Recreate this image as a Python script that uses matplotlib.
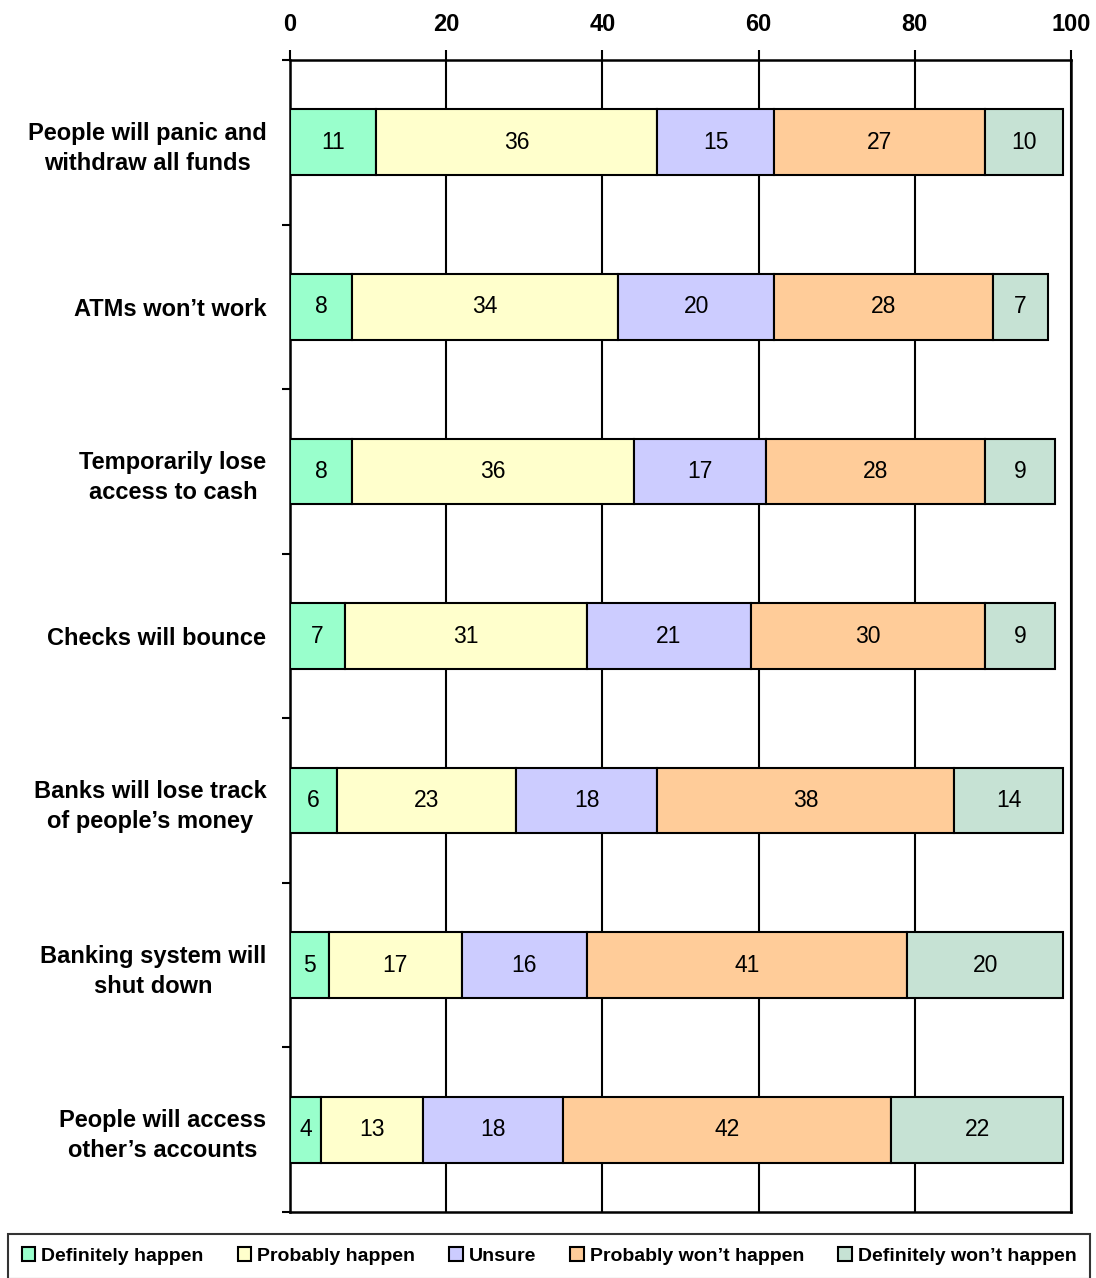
import matplotlib
matplotlib.use("Agg")
import matplotlib.pyplot as plt
import numpy as np

categories = ["People will panic and\nwithdraw all funds",
              "ATMs won\u2019t work",
              "Temporarily lose\naccess to cash",
              "Checks will bounce",
              "Banks will lose track\nof people\u2019s money",
              "Banking system will\nshut down",
              "People will access\nother\u2019s accounts"]
series_names = ["Definitely happen", "Probably happen", "Unsure",
                "Probably won\u2019t happen", "Definitely won\u2019t happen"]
definitely_happen = [11, 8, 8, 7, 6, 5, 4]
probably_happen = [36, 34, 36, 31, 23, 17, 13]
unsure = [15, 20, 17, 21, 18, 16, 18]
probably_wont = [27, 28, 28, 30, 38, 41, 42]
definitely_wont = [10, 7, 9, 9, 14, 20, 22]
x_ticks = [0, 20, 40, 60, 80, 100]
colors = ["#99FFCC", "#FFFFCC", "#CCCCFF", "#FFCC99", "#C6E2D4"]

plt.rcParams['font.family'] = ['Liberation Sans', 'DejaVu Sans']

fig = plt.figure(figsize=(10.96, 12.78), dpi=100)
ax = fig.add_axes([290/1096, 1-1212/1278, (1071-290)/1096, (1212-60)/1278])

data = [definitely_happen, probably_happen, unsure, probably_wont, definitely_wont]
y = np.arange(len(categories))
left = np.zeros(len(categories))
handles = []
for vals, col, name in zip(data, colors, series_names):
    vals = np.array(vals, dtype=float)
    bars = ax.barh(y, vals, left=left, height=0.4, color=col, edgecolor="black",
                   linewidth=1.5, label=name, zorder=3)
    handles.append(bars)
    for yi, l, v in zip(y, left, vals):
        ax.text(l + v/2, yi, f"{int(v)}", ha="center", va="center",
                fontsize=16.5, zorder=4)
    left += vals

ax.set_xlim(0, 100)
ax.set_ylim(len(categories) - 0.5, -0.5)
ax.xaxis.tick_top()
ax.set_xticks(x_ticks)
ax.set_xticklabels([str(t) for t in x_ticks], fontsize=17, fontweight="bold")
ax.tick_params(axis="x", direction="out", length=7, width=1.5, pad=10)
ax.set_yticks(y)
ax.set_yticklabels(categories, fontsize=17, fontweight="bold", ha="right",
                   multialignment="center", linespacing=1.4)
ax.tick_params(axis="y", which="major", length=0, pad=17)
ax.set_yticks(np.arange(len(categories) + 1) - 0.5, minor=True)
ax.tick_params(axis="y", which="minor", direction="out", length=6, width=1.5)
ax.xaxis.grid(True, color="black", linewidth=1.5, zorder=0)
ax.set_axisbelow(True)
for sp in ax.spines.values():
    sp.set_linewidth(1.8)
    sp.set_color("black")

leg = fig.legend(handles=handles, labels=series_names, loc="upper left",
                 bbox_to_anchor=(8/1096, 1-1235/1278, (1090-8)/1096, 0.001),
                 mode="expand", ncol=5, frameon=True, fancybox=False,
                 edgecolor="black", handlelength=0.7, handleheight=0.7,
                 handletextpad=0.3, columnspacing=0.8, borderpad=0.7,
                 borderaxespad=0,
                 prop={"weight": "bold", "size": 14})
leg.get_frame().set_linewidth(1.5)

fig.savefig("out.png", dpi=100)
